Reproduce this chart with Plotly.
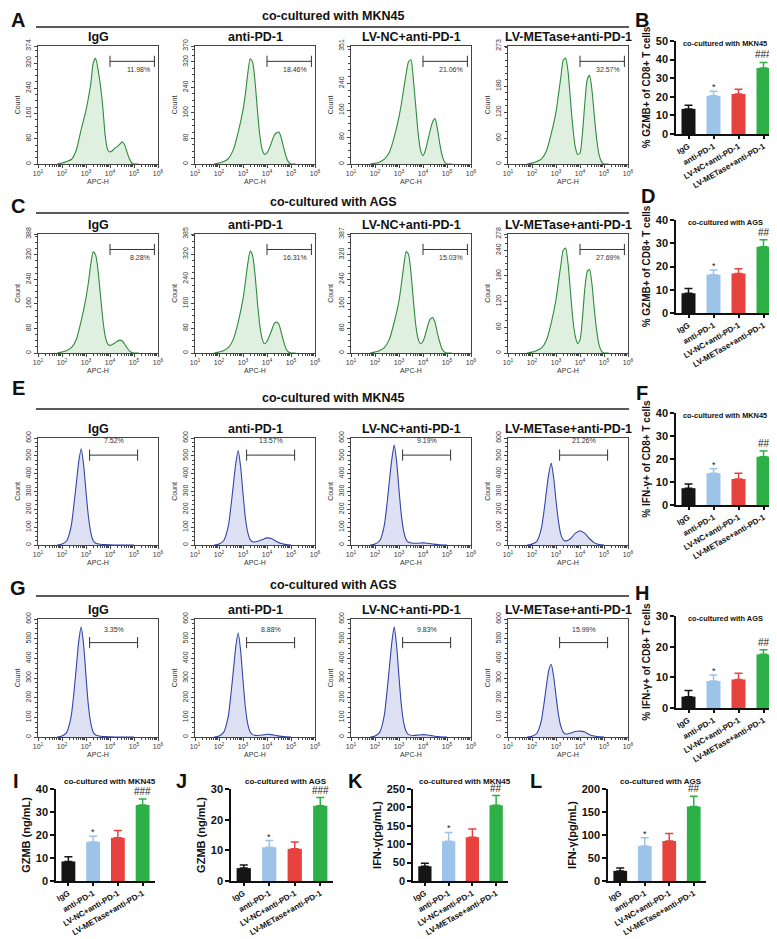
import plotly.graph_objects as go
import math

W, H = 777, 939
FONT = "Liberation Sans, Arial, sans-serif"

# ---------------- data ----------------
groups = ["IgG", "anti-PD-1", "LV-NC+anti-PD-1", "LV-METase+anti-PD-1"]
bar_colors = ["#151515", "#9ec3e8", "#e8423f", "#2db046"]

# flow histograms (x = log10 APC-H, y = count)
grid_gzmb = [1.8, 2.0, 2.2, 2.4, 2.6, 2.8, 3.0, 3.1, 3.2, 3.3, 3.4, 3.5, 3.6, 3.7,
             3.8, 3.9, 4.0, 4.1, 4.2, 4.3, 4.4, 4.5, 4.6, 4.7, 4.8, 4.9, 5.0, 5.2]
A_igg = [0, 3, 8, 15, 45, 110, 170, 210, 255, 320, 335, 300, 250, 180, 90, 45, 38, 42, 50, 55, 62, 70, 62, 40, 18, 4, 0, 0]
A_anti = [0, 3, 8, 18, 45, 100, 170, 220, 285, 330, 320, 260, 170, 90, 45, 30, 35, 50, 70, 90, 98, 100, 80, 50, 22, 6, 0, 0]
A_lvnc = [0, 2, 6, 15, 35, 80, 140, 180, 225, 270, 305, 310, 250, 170, 90, 40, 25, 40, 70, 100, 125, 135, 105, 60, 25, 6, 0, 0]
A_lvmet = [0, 2, 6, 12, 30, 70, 120, 160, 200, 240, 245, 215, 150, 85, 40, 22, 25, 70, 140, 195, 205, 170, 110, 55, 20, 5, 0, 0]
C_igg = [0, 3, 8, 18, 45, 105, 180, 230, 290, 330, 320, 270, 190, 110, 55, 30, 25, 28, 33, 38, 42, 40, 30, 18, 8, 2, 0, 0]
C_anti = [0, 3, 8, 18, 45, 100, 175, 230, 290, 330, 315, 255, 165, 90, 45, 30, 38, 55, 75, 95, 100, 92, 65, 35, 12, 3, 0, 0]
C_lvnc = [0, 3, 8, 18, 45, 100, 170, 225, 285, 330, 320, 260, 170, 90, 45, 30, 38, 60, 90, 110, 115, 100, 65, 35, 12, 3, 0, 0]
C_lvmet = [0, 2, 6, 12, 30, 70, 125, 165, 205, 240, 245, 210, 145, 80, 40, 22, 30, 80, 150, 190, 195, 160, 100, 50, 18, 4, 0, 0]

grid_ifn = [1.8, 2.0, 2.2, 2.3, 2.4, 2.5, 2.6, 2.7, 2.8, 2.9, 3.0, 3.1, 3.2, 3.3,
            3.4, 3.6, 3.8, 4.0, 4.2, 4.4, 4.6, 4.8, 5.0]
E_igg = [0, 5, 25, 60, 120, 230, 350, 470, 540, 450, 300, 160, 70, 25, 10, 4, 2, 1, 0, 0, 0, 0, 0]
E_anti = [0, 5, 25, 60, 115, 220, 340, 460, 530, 440, 290, 150, 70, 30, 18, 20, 30, 40, 35, 20, 8, 2, 0]
E_lvnc = [0, 5, 25, 60, 120, 230, 360, 480, 560, 470, 310, 165, 75, 30, 15, 10, 10, 12, 10, 6, 2, 0, 0]
E_lvmet = [0, 5, 20, 50, 100, 190, 300, 400, 460, 380, 250, 135, 60, 30, 22, 35, 65, 80, 65, 35, 12, 3, 0]
G_igg = [0, 5, 25, 60, 120, 230, 360, 490, 560, 470, 310, 160, 70, 25, 10, 4, 2, 1, 0, 0, 0, 0, 0]
G_anti = [0, 5, 25, 60, 115, 220, 340, 460, 530, 440, 290, 150, 65, 25, 12, 8, 10, 14, 12, 7, 3, 1, 0]
G_lvnc = [0, 5, 25, 60, 120, 230, 355, 480, 560, 465, 305, 160, 70, 28, 12, 8, 10, 12, 10, 6, 2, 0, 0]
G_lvmet = [0, 4, 18, 45, 90, 170, 260, 340, 370, 310, 210, 115, 55, 25, 15, 20, 28, 30, 25, 12, 5, 1, 0]

A_pct = ["11.98%", "18.46%", "21.06%", "32.57%"]
C_pct = ["8.28%", "16.31%", "15.03%", "27.69%"]
E_pct = ["7.52%", "13.57%", "9.19%", "21.26%"]
G_pct = ["3.35%", "8.88%", "9.83%", "15.99%"]

A_ymax = [374, 370, 351, 273]
A_ytick = [[0, 80, 160, 240, 320, 374], [0, 80, 160, 240, 320, 370], [0, 80, 160, 240, 351], [0, 60, 120, 180, 273]]
C_ymax = [388, 385, 387, 278]
C_ytick = [[0, 80, 160, 240, 320, 388], [0, 80, 160, 240, 320, 385], [0, 80, 160, 240, 320, 387], [0, 60, 120, 180, 240, 278]]
IFN_ytick = [0, 100, 200, 300, 400, 500, 600]

# bar charts: mean, error
B_mean = [13.5, 20.5, 21.5, 35.5]; B_err = [2.0, 2.5, 2.5, 3.0]
D_mean = [8.5, 16.5, 17.0, 28.5]; D_err = [2.0, 2.0, 2.0, 3.0]
F_mean = [7.3, 13.8, 11.3, 21.0]; F_err = [1.8, 2.0, 2.5, 2.5]
H_mean = [3.7, 8.8, 9.3, 17.5]; H_err = [2.0, 2.0, 2.0, 1.5]
I_mean = [8.5, 17.0, 18.8, 33.0]; I_err = [2.0, 2.5, 3.2, 2.7]
J_mean = [4.2, 11.0, 10.5, 24.5]; J_err = [1.0, 2.2, 2.2, 2.7]
K_mean = [40, 108, 119, 206]; K_err = [8, 24, 22, 26]
L_mean = [22, 76, 87, 162]; L_err = [6, 18, 16, 22]
sig_3 = ["", "*", "", "###"]
sig_2 = ["", "*", "", "##"]

# ---------------- helpers ----------------
fig = go.Figure()
layout = {}
annotations = []
shapes = []
counter = [0]


def px2x(px):
    return px / W


def px2y(py):
    return 1 - py / H


def new_axes():
    counter[0] += 1
    return counter[0]


def ann(text, x, y, size, bold=True, xanchor="center", yanchor="middle", color="#111", **kw):
    annotations.append(dict(text=("<b>%s</b>" % text) if bold else text, x=px2x(x), y=px2y(y),
                            xref="paper", yref="paper", showarrow=False, xanchor=xanchor,
                            yanchor=yanchor, font=dict(family=FONT, size=size, color=color), **kw))


minor_x = [math.log10(k * 10 ** n) for n in range(1, 6) for k in range(2, 10)]


def histogram(col, rowy, xs, ys, ymax, yticks, line_c, fill_c, pct, gate_style, title):
    n = new_axes()
    x0, x1 = col
    y0, y1 = rowy
    xa = "x" if n == 1 else "x%d" % n
    ya = "y" if n == 1 else "y%d" % n
    fig.add_trace(go.Scatter(x=xs, y=ys, mode="lines", line=dict(color=line_c, width=1.1, shape="spline", smoothing=0.6),
                             fill="tozeroy", fillcolor=fill_c, xaxis=xa, yaxis=ya, showlegend=False, hoverinfo="skip"))
    step = yticks[1] - yticks[0]
    minor_y = [v for v in [i * step / 4 for i in range(0, 40)] if v <= ymax and v not in yticks]
    layout["xaxis%d" % n] = dict(domain=[px2x(x0), px2x(x1)], anchor=ya, range=[1, 6], showline=True, mirror=True,
                                 linecolor="#444", linewidth=1, ticks="outside", ticklen=3, tickcolor="#444",
                                 tickvals=[1, 2, 3, 4, 5, 6], ticktext=["10<sup>%d</sup>" % i for i in range(1, 7)],
                                 tickfont=dict(family=FONT, size=7, color="#333"), showgrid=False, zeroline=False,
                                 minor=dict(tickvals=minor_x, ticks="outside", ticklen=2, tickcolor="#444"),
                                 title=dict(text="APC-H", font=dict(family=FONT, size=7, color="#333"), standoff=2),
                                 automargin=False)
    layout["yaxis%d" % n] = dict(domain=[px2y(y1), px2y(y0)], anchor=xa, range=[0, ymax], showline=True, mirror=True,
                                 linecolor="#444", linewidth=1, ticks="outside", ticklen=3, tickcolor="#444",
                                 tickvals=yticks, ticktext=[str(v) for v in yticks], tickangle=-90,
                                 tickfont=dict(family=FONT, size=7, color="#333"), showgrid=False, zeroline=False,
                                 minor=dict(tickvals=minor_y, ticks="outside", ticklen=2, tickcolor="#444"),
                                 title=dict(text="Count", font=dict(family=FONT, size=7, color="#333"), standoff=3),
                                 automargin=False)
    ann(title, (x0 + x1) / 2, y0 - 9, 12.5)
    # gate bracket
    if gate_style == "gz":
        gx0, gx1, gy, ty, anchor, tx = 4.0, 5.85, 0.87, 0.80, "right", 5.75
    else:
        gx0, gx1, gy, ty = gate_style
        anchor, tx = "center", (gate_style[0] + gate_style[1]) / 2
    fig.add_trace(go.Scatter(x=[gx0, gx1], y=[gy * ymax, gy * ymax], mode="lines+markers",
                             line=dict(color="#333", width=1), marker=dict(symbol="line-ns", size=8,
                             line=dict(color="#333", width=1)), xaxis=xa, yaxis=ya, showlegend=False, hoverinfo="skip"))
    annotations.append(dict(text=pct, x=(tx - 1) / 5, y=ty, xref=xa + " domain", yref=ya + " domain",
                            showarrow=False, xanchor=anchor, yanchor="middle",
                            font=dict(family=FONT, size=7, color="#333")))


def barchart(colx, rowy, means, errs, ymax, dtick, ylabel, title, title_y, sig, ysize=10.5, title_left=None):
    n = new_axes()
    x0, x1 = colx
    y0, y1 = rowy
    xa = "x%d" % n
    ya = "y%d" % n
    for g, m, e, c, s in zip(groups, means, errs, bar_colors, sig):
        fig.add_trace(go.Bar(x=[g], y=[m], width=0.56, marker=dict(color=c, line=dict(width=0)),
                             error_y=dict(type="data", array=[e], arrayminus=[0], symmetric=False, color=c,
                                          thickness=1.5, width=4),
                             xaxis=xa, yaxis=ya, showlegend=False, hoverinfo="skip"))
        if s:
            annotations.append(dict(text=s, x=g, y=m + e, xref=xa, yref=ya, showarrow=False, yanchor="bottom",
                                    yshift=-3 if s == "*" else 0,
                                    font=dict(family=FONT, size=9 if s == "*" else 10, color="#222")))
    layout["xaxis%d" % n] = dict(domain=[px2x(x0), px2x(x1)], anchor=ya, type="category", categoryorder="array",
                                 categoryarray=groups, range=[-0.5, 3.5], showline=True, linecolor="#111",
                                 linewidth=1.5, ticks="outside", ticklen=3, tickwidth=1.5, tickcolor="#111",
                                 tickangle=-30, tickfont=dict(family=FONT, size=8, color="#111", weight="bold"),
                                 showgrid=False, zeroline=False, automargin=False)
    layout["yaxis%d" % n] = dict(domain=[px2y(y1), px2y(y0)], anchor=xa, range=[0, ymax], dtick=dtick,
                                 showline=True, linecolor="#111", linewidth=1.5, ticks="outside", ticklen=4,
                                 tickwidth=1.5, tickcolor="#111",
                                 tickfont=dict(family=FONT, size=11, color="#111", weight="bold"),
                                 showgrid=False, zeroline=False,
                                 title=dict(text=ylabel, font=dict(family=FONT, size=ysize, color="#111", weight="bold"),
                                            standoff=3),
                                 automargin=False)
    if title_left is None:
        ann(title, (x0 + x1) / 2 + 4, title_y, 8)
    else:
        ann(title, title_left, title_y, 7.4, xanchor="left")


# ---------------- histogram rows ----------------
hist_cols = [(30, 150), (187, 307), (343, 463), (500, 620)]
GZ_LINE, GZ_FILL = "#2e8b3c", "rgba(196,228,198,0.55)"
IF_LINE, IF_FILL = "#3346a6", "rgba(200,204,236,0.6)"

rowA = (38, 156)
rowC = (226, 345)
rowE = (430, 537)
rowG = (611, 729)

for i, ys in enumerate([A_igg, A_anti, A_lvnc, A_lvmet]):
    histogram(hist_cols[i], rowA, grid_gzmb, ys, A_ymax[i], A_ytick[i], GZ_LINE, GZ_FILL, A_pct[i], "gz", groups[i])
for i, ys in enumerate([C_igg, C_anti, C_lvnc, C_lvmet]):
    histogram(hist_cols[i], rowC, grid_gzmb, ys, C_ymax[i], C_ytick[i], GZ_LINE, GZ_FILL, C_pct[i], "gz", groups[i])
for i, ys in enumerate([E_igg, E_anti, E_lvnc, E_lvmet]):
    histogram(hist_cols[i], rowE, grid_ifn, ys, 600, IFN_ytick, IF_LINE, IF_FILL, E_pct[i], (3.15, 5.15, 0.84, 0.98), groups[i])
for i, ys in enumerate([G_igg, G_anti, G_lvnc, G_lvmet]):
    histogram(hist_cols[i], rowG, grid_ifn, ys, 600, IFN_ytick, IF_LINE, IF_FILL, G_pct[i], (3.15, 5.15, 0.80, 0.91), groups[i])

# headers
for (ly, ty, txt) in [(19, 8, "co-cultured with MKN45"), (205, 194, "co-cultured with AGS"),
                      (401, 390, "co-cultured with MKN45"), (588, 577, "co-cultured with AGS")]:
    shapes.append(dict(type="line", xref="paper", yref="paper", x0=px2x(28), x1=px2x(621), y0=px2y(ly), y1=px2y(ly),
                       line=dict(color="#222", width=1.5)))
    ann(txt, 325, ty, 12.5)

# ---------------- right bar charts ----------------
rx = (668, 768)
barchart(rx, (33, 126), B_mean, B_err, 50, 10, "% GZMB+ of CD8+ T cells", "co-cultured with MKN45", 35, sig_3, 10, 673)
barchart(rx, (212, 305), D_mean, D_err, 40, 10, "% GZMB+ of CD8+ T cells", "co-cultured with AGS", 214, sig_2, 10, 678)
barchart(rx, (405, 497), F_mean, F_err, 40, 10, "% IFN-γ+ of CD8+ T cells", "co-cultured with MKN45", 407, sig_2, 10, 673)
barchart(rx, (608, 700), H_mean, H_err, 30, 10, "% IFN-γ+ of CD8+ T cells", "co-cultured with AGS", 610, sig_2, 10, 678)

# ---------------- bottom bar charts ----------------
by = (781, 873)
barchart((48, 147), by, I_mean, I_err, 40, 10, "GZMB (ng/mL)", "co-cultured with MKN45", 773, sig_3, 11)
barchart((223, 325), by, J_mean, J_err, 30, 10, "GZMB (ng/mL)", "co-cultured with AGS", 773, sig_3, 11)
barchart((405, 500), by, K_mean, K_err, 250, 50, "IFN-γ(pg/mL)", "co-cultured with MKN45", 773, sig_2, 11)
barchart((600, 698), by, L_mean, L_err, 200, 50, "IFN-γ(pg/mL)", "co-cultured with AGS", 773, sig_2, 11)

# panel letters
for t, x, y in [("A", 10, 12), ("B", 634, 12), ("C", 10, 198), ("D", 640, 188), ("E", 10, 380), ("F", 634, 385),
                ("G", 10, 580), ("H", 634, 585), ("I", 8, 773), ("J", 173, 773), ("K", 347, 773), ("L", 528, 773)]:
    ann(t, x, y, 20, xanchor="center")

fig.update_layout(width=W, height=H, margin=dict(l=0, r=0, t=0, b=0), autosize=False,
                  paper_bgcolor="white", plot_bgcolor="white", barmode="overlay",
                  font=dict(family=FONT, color="#111"), annotations=annotations, shapes=shapes, **layout)
fig.write_html("out.html")
